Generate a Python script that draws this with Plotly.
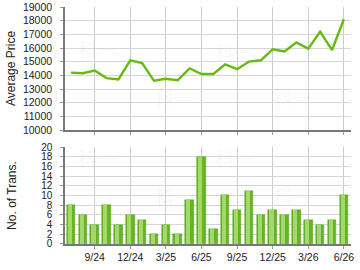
import plotly.graph_objects as go
from plotly.subplots import make_subplots

months = ["7/24", "8/24", "9/24", "10/24", "11/24", "12/24", "1/25", "2/25", "3/25", "4/25",
          "5/25", "6/25", "7/25", "8/25", "9/25", "10/25", "11/25", "12/25", "1/26", "2/26",
          "3/26", "4/26", "5/26", "6/26"]
avg_price = [14200, 14150, 14350, 13800, 13700, 15100, 14900, 13600, 13750, 13650,
             14500, 14100, 14100, 14800, 14450, 15000, 15100, 15900, 15750, 16400,
             15950, 17200, 15850, 18100]
transactions = [8, 6, 4, 8, 4, 6, 5, 2, 4, 2,
                9, 18, 3, 10, 7, 11, 6, 7, 6, 7,
                5, 4, 5, 10]
tick_months = ["9/24", "12/24", "3/25", "6/25", "9/25", "12/25", "3/26", "6/26"]
price_ticks = [10000, 11000, 12000, 13000, 14000, 15000, 16000, 17000, 18000, 19000]
price_labels = ["10000", "11000", "12000", "13000", "14000", "15000", "16000", "17000", "18000", "19000"]
trans_ticks = [0, 2, 4, 6, 8, 10, 12, 14, 16, 18, 20]
trans_labels = ["0", "2", "4", "6", "8", "10", "12", "14", "16", "18", "20"]

fig = make_subplots(rows=2, cols=1, shared_xaxes=False, vertical_spacing=0.0)

fig.add_trace(go.Scatter(x=months, y=avg_price, mode="lines",
                         line=dict(color="#66bb11", width=2.4), showlegend=False,
                         hoverinfo="skip"), row=1, col=1)
fig.add_trace(go.Bar(x=months, y=transactions, width=0.72,
                     marker=dict(color="#66b326", line=dict(color="#5aa51a", width=0.5)),
                     showlegend=False, hoverinfo="skip"), row=2, col=1)
fig.add_trace(go.Bar(x=months, y=transactions, width=0.34, offset=-0.27,
                     marker=dict(color="#a2d86c", line=dict(width=0)),
                     showlegend=False, hoverinfo="skip"), row=2, col=1)

font = dict(family="Liberation Sans, Arial, sans-serif", size=10.5, color="#222222")
tfont = dict(family="Liberation Sans, Arial, sans-serif", size=12, color="#222222")
xcommon = dict(type="category", categoryorder="array", categoryarray=months,
               range=[-0.5, 23.6], tickmode="array", tickvals=tick_months,
               showgrid=True, gridcolor="#cccccc", gridwidth=1,
               showline=True, linecolor="#777777", linewidth=1.5,
               ticks="outside", ticklen=3, tickcolor="#999999",
               tickfont=font, fixedrange=True)

fig.update_layout(
    width=360, height=270,
    margin=dict(l=65, r=6, t=7, b=26),
    paper_bgcolor="white", plot_bgcolor="white",
    barmode="overlay", bargap=0,
    font=font,
    xaxis=dict(xcommon, domain=[0, 1], showticklabels=False, anchor="y"),
    yaxis=dict(domain=[0.481, 1], range=[10000, 19000], tickmode="array",
               tickvals=price_ticks, ticktext=price_labels,
               showgrid=True, gridcolor="#d6d6d6", gridwidth=1,
               showline=True, linecolor="#777777", linewidth=1.5,
               ticks="outside", ticklen=3, tickcolor="#999999",
               tickfont=font, ticklabelstandoff=6,
               title=dict(text="Average Price", font=tfont, standoff=5),
               automargin=False, fixedrange=True),
    xaxis2=dict(xcommon, domain=[0, 1], showticklabels=True, anchor="y2"),
    yaxis2=dict(domain=[0, 0.409], range=[0, 20], tickmode="array",
                tickvals=trans_ticks, ticktext=trans_labels,
                showgrid=True, gridcolor="#d6d6d6", gridwidth=1,
                showline=True, linecolor="#777777", linewidth=1.5,
                ticks="outside", ticklen=3, tickcolor="#999999",
                tickfont=dict(font, size=10), ticklabelstandoff=6,
                title=dict(text="No. of Trans.", font=tfont, standoff=22),
                automargin=False, fixedrange=True),
)

wm = [(0.038, 0.890), (0.308, 0.624), (0.592, 0.878), (0.869, 0.624),
      (0.038, 0.363), (0.308, 0.135), (0.592, 0.367), (0.869, 0.135)]
for (wx, wy) in wm:
    fig.add_annotation(x=wx, y=wy, xref="paper", yref="paper", text="科一", showarrow=False,
                       font=dict(family="Noto Sans CJK SC", size=19, color="rgba(0,0,0,0.05)"))

fig.write_html("out.html")
